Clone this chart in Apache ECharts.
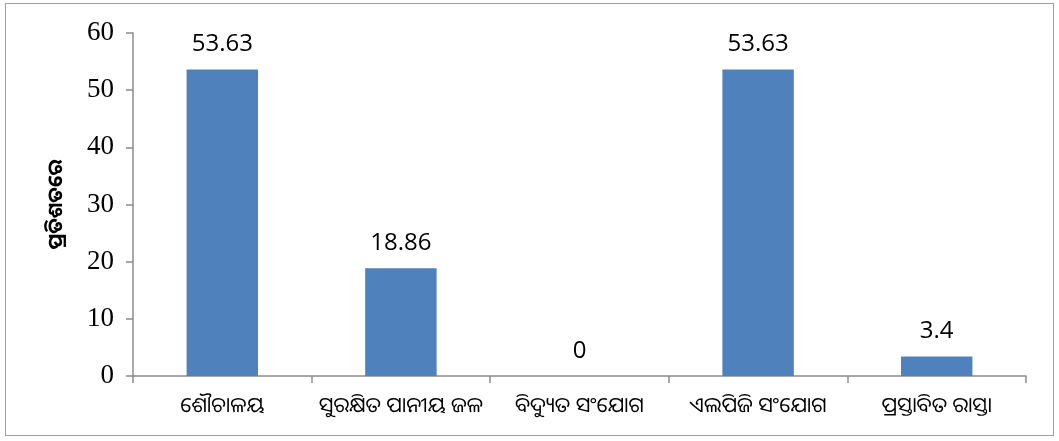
<!DOCTYPE html>
<html>
<head>
<meta charset="utf-8">
<script src="https://cdn.jsdelivr.net/npm/echarts@6/dist/echarts.min.js"></script>
<style>
html,body{margin:0;padding:0;background:#fff;}
#wrap{position:absolute;left:5px;top:3px;width:1049px;height:433px;border:1px solid #a0a0a0;box-sizing:border-box;}
#chart{position:absolute;left:0;top:0;width:1059px;height:441px;}
</style>
</head>
<body>
<div id="wrap"></div>
<div id="chart"></div>
<script>
const categories = ["ଶୌଚାଳୟ", "ସୁରକ୍ଷିତ ପାନୀୟ ଜଳ", "ବିଦ୍ୟୁତ ସଂଯୋଗ", "ଏଲପିଜି ସଂଯୋଗ", "ପ୍ରସ୍ତାବିତ ରାସ୍ତା"];
const values = [53.63, 18.86, 0, 53.63, 3.4];
const yAxisTitle = "ପ୍ରତିଶତରେ";

const chart = echarts.init(document.getElementById('chart'), null, {renderer: 'canvas'});
chart.setOption({
  backgroundColor: 'transparent',
  animation: false,
  grid: {left: 133, right: 33, top: 33, bottom: 65},
  xAxis: {
    type: 'category',
    data: categories,
    axisLine: {lineStyle: {color: '#8c8c8c', width: 1.5}},
    axisTick: {show: true, length: 7, lineStyle: {color: '#8c8c8c', width: 1.5}},
    axisLabel: {interval: 0, color: '#000', fontSize: 21, margin: 20, fontFamily: '"Noto Sans Oriya","Noto Sans","DejaVu Sans",sans-serif'}
  },
  yAxis: {
    type: 'value',
    min: 0, max: 60, interval: 10,
    name: yAxisTitle,
    nameLocation: 'middle',
    nameGap: 67,
    nameRotate: 90,
    nameTextStyle: {color: '#000', fontSize: 20, fontWeight: 'bold', fontFamily: '"Noto Sans Oriya","Noto Sans","DejaVu Sans",sans-serif'},
    axisLine: {show: true, lineStyle: {color: '#8c8c8c', width: 1.5}},
    axisTick: {show: true, length: 7, lineStyle: {color: '#8c8c8c', width: 1.5}},
    splitLine: {show: false},
    axisLabel: {color: '#000', fontSize: 27, margin: 19, fontFamily: '"Liberation Serif","Times New Roman",serif'}
  },
  series: [{
    type: 'bar',
    data: values,
    barWidth: '40%',
    itemStyle: {color: '#4f81bd'},
    label: {show: true, position: 'top', distance: 13, color: '#000', fontSize: 24, fontFamily: '"Open Sans","Liberation Sans",sans-serif'}
  }]
});
</script>
</body>
</html>
